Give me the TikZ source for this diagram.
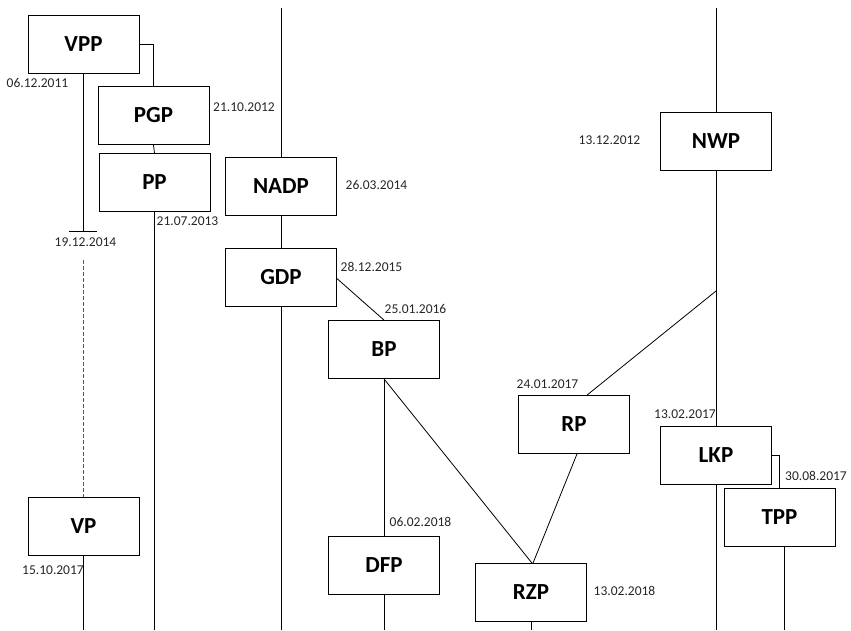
\documentclass[tikz,border=0pt]{standalone}
\usepackage{fontspec}
\setmainfont{Carlito}
\begin{document}
\begin{tikzpicture}[x=1pt,y=-1pt,line width=0.8pt,
    party/.style={draw, minimum width=111pt, minimum height=58pt, inner sep=0pt, font=\fontsize{23}{23}\selectfont\bfseries},
    date/.style={font=\fontsize{13.5}{13.5}\selectfont, text=black!85, inner sep=0pt}]
    \useasboundingbox (0,0) rectangle (851,630);

    % Draw the party boxes
    \node[party] (VPP) at (83.5,44) {VPP};
    \node[party] (PGP) at (153.5,115.5) {PGP};
    \node[party] (PP) at (154.5,182.5) {PP};
    \node[party] (NADP) at (281,186) {NADP};
    \node[party] (GDP) at (281,277.5) {GDP};
    \node[party] (BP) at (384,349.5) {BP};
    \node[party] (NWP) at (716,141) {NWP};
    \node[party] (RP) at (574,424.5) {RP};
    \node[party] (LKP) at (716,455) {LKP};
    \node[party] (TPP) at (779.5,517.5) {TPP};
    \node[party] (VP) at (83.5,526.5) {VP};
    \node[party] (DFP) at (384,565) {DFP};
    \node[party] (RZP) at (531,592.5) {RZP};

    % Free ends of the lines
    \coordinate (topA) at (281,8);
    \coordinate (topB) at (716,8);
    \coordinate (vppEnd) at (83.5,231);
    \coordinate (vpStart) at (83.5,260);
    \coordinate (nwpSplit) at (716,291);

    % Draw the lines
    \draw (topA) -- (NADP.north);
    \draw (topB) -- (NWP.north);
    \draw (VPP.east) -| (PGP.north); % split to PGP
    \draw (PGP.south) -- (PP.north);
    \draw (PP.south) -- (PP.south |- 0,630);
    \draw (VPP.south) -- (vppEnd);
    \draw (69,231) -- (97,231); % end mark
    \draw[black!65, dash pattern=on 4pt off 2pt] (vpStart) -- (VP.north);
    \draw (VP.south) -- (VP.south |- 0,630);
    \draw (NADP.south) -- (GDP.north);
    \draw (GDP.south) -- (GDP.south |- 0,630);
    \draw ([yshift=-1pt]GDP.east) -- (BP.north);
    \draw (BP.south) -- (DFP.north);
    \draw (BP.south) -- ([xshift=1pt]RZP.north);
    \draw (DFP.south) -- (DFP.south |- 0,630);
    \draw (RZP.south) -- (RZP.south |- 0,630);
    \draw (NWP.south) -- (LKP.north);
    \draw (nwpSplit) -- ([xshift=13pt]RP.north);
    \draw ([xshift=3pt]RP.south) -- ([xshift=2pt]RZP.north);
    \draw (LKP.east) -| (TPP.north); % split to TPP
    \draw (LKP.south) -- (LKP.south |- 0,630);
    \draw ([xshift=4.5pt]TPP.south) -- ([xshift=4.5pt]TPP.south |- 0,630);

    % Dates
    \node[date] (dVPP) at (37.5,83) {06.12.2011};
    \node[date] (dPGP) at (244,107) {21.10.2012};
    \node[date] (dPP) at (187.5,221) {21.07.2013};
    \node[date] (dEnd) at (85.5,242) {19.12.2014};
    \node[date] (dNADP) at (376.5,185) {26.03.2014};
    \node[date] (dGDP) at (371.5,267) {28.12.2015};
    \node[date] (dBP) at (415.5,309) {25.01.2016};
    \node[date] (dNWP) at (609.5,140) {13.12.2012};
    \node[date] (dRP) at (547.5,384) {24.01.2017};
    \node[date] (dLKP) at (685,414) {13.02.2017};
    \node[date] (dTPP) at (816,476) {30.08.2017};
    \node[date] (dVP) at (53,570) {15.10.2017};
    \node[date] (dDFP) at (420.5,522) {06.02.2018};
    \node[date] (dRZP) at (624.5,591) {13.02.2018};
\end{tikzpicture}
\end{document}
